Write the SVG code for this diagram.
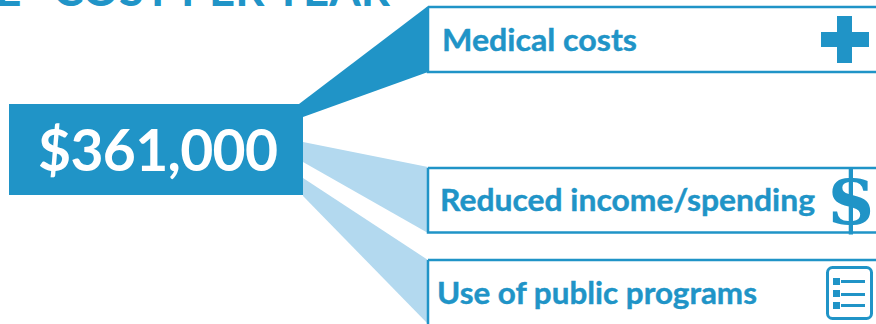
<svg xmlns="http://www.w3.org/2000/svg" width="876" height="324" viewBox="0 0 876 324">
<style>
.t{font-family:Lato,"Open Sans",sans-serif;font-weight:700;fill:#2094c7}
.box{fill:#fff;stroke:#2094c7;stroke-width:2.500}
.dark{fill:#2094c7}
.light{fill:#b3d9ef}
.l{font-size:30px;stroke:#2094c7;stroke-width:.4px}
</style>
<rect width="876" height="324" fill="#fff"/>
<text id="title" class="t" y="6" font-size="46"><tspan x="-5">E</tspan><tspan x="53" textLength="337" lengthAdjust="spacingAndGlyphs">COST PER YEAR</tspan></text>
<g id="connectors">
<polygon class="dark" points="299,104 428,6 428,72 303,117"/>
<polygon class="light" points="303,142 428,167 428,233 303,162"/>
<polygon class="light" points="303,178 428,260 428,324 303,196"/>
</g>
<g id="node-total">
<rect class="dark" x="9" y="104" width="294" height="91"/>
<text x="158" y="171" text-anchor="middle" font-family="Lato,'Open Sans',sans-serif" font-weight="700" font-size="57" fill="#fff" textLength="240">$361,000</text>
</g>
<g id="node-medical">
<path class="box" d="M428 7H876M876 72H428V7"/>
<text class="t l" x="442" y="51" textLength="195" lengthAdjust="spacingAndGlyphs">Medical costs</text>
<path class="dark" d="M821 32h16V16h15v16h17v15h-17v16h-15V47h-16z"/>
</g>
<g id="node-income">
<path class="box" d="M428 168H876M876 232.500H428V168"/>
<text class="t l" x="440" y="211" textLength="375" lengthAdjust="spacingAndGlyphs">Reduced income/spending</text>
<text x="851" y="224" text-anchor="middle" font-family="'DejaVu Serif',serif" font-weight="700" font-size="72" fill="#2094c7">$</text>
</g>
<g id="node-programs">
<path class="box" d="M428 260H876M428 260V324"/>
<text class="t l" x="437" y="304" textLength="320" lengthAdjust="spacingAndGlyphs">Use of public programs</text>
<rect x="827.500" y="267.500" width="44" height="51" rx="5" fill="none" stroke="#2094c7" stroke-width="3"/>
<path class="dark" d="M833 278h7v7h-7zM833 290h7v7h-7zM833 302h7v7h-7z"/>
<path d="M841 281.500h24M841 294.500h24M841 305.500h24" stroke="#2094c7" stroke-width="3" fill="none"/>
</g>
</svg>
